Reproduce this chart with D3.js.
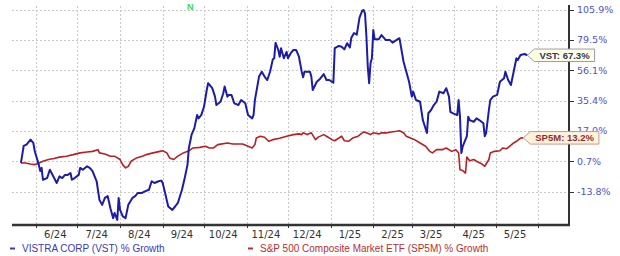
<!DOCTYPE html>
<html><head><meta charset="utf-8">
<script src="https://cdn.jsdelivr.net/npm/d3@7"></script>
<style>body{margin:0;background:#fff}svg{display:block}</style>
</head><body><svg id="c" width="620" height="256"></svg>
<script>
// ---- data ----
const vstDates = ["2024-05-21","2024-05-23","2024-05-25","2024-05-28","2024-05-29","2024-05-30","2024-05-31","2024-06-03","2024-06-04","2024-06-05","2024-06-06","2024-06-09","2024-06-11","2024-06-13","2024-06-16","2024-06-18","2024-06-20","2024-06-22","2024-06-24","2024-06-26","2024-06-27","2024-06-29","2024-07-02","2024-07-03","2024-07-05","2024-07-08","2024-07-10","2024-07-12","2024-07-15","2024-07-17","2024-07-19","2024-07-21","2024-07-23","2024-07-25","2024-07-27","2024-07-28","2024-07-30","2024-07-31","2024-08-01","2024-08-03","2024-08-05","2024-08-07","2024-08-10","2024-08-12","2024-08-14","2024-08-17","2024-08-19","2024-08-22","2024-08-24","2024-08-26","2024-08-29","2024-08-31","2024-09-01","2024-09-03","2024-09-05","2024-09-08","2024-09-10","2024-09-12","2024-09-15","2024-09-17","2024-09-19","2024-09-20","2024-09-22","2024-09-24","2024-09-26","2024-09-27","2024-09-29","2024-10-01","2024-10-03","2024-10-04","2024-10-07","2024-10-09","2024-10-10","2024-10-13","2024-10-15","2024-10-16","2024-10-18","2024-10-19","2024-10-21","2024-10-23","2024-10-26","2024-10-28","2024-10-31","2024-11-02","2024-11-05","2024-11-06","2024-11-07","2024-11-10","2024-11-12","2024-11-14","2024-11-16","2024-11-18","2024-11-20","2024-11-21","2024-11-22","2024-11-24","2024-11-25","2024-11-26","2024-11-28","2024-11-30","2024-12-01","2024-12-03","2024-12-05","2024-12-07","2024-12-09","2024-12-11","2024-12-12","2024-12-13","2024-12-17","2024-12-18","2024-12-19","2024-12-22","2024-12-24","2024-12-27","2024-12-29","2024-12-31","2025-01-03","2025-01-04","2025-01-07","2025-01-09","2025-01-11","2025-01-13","2025-01-15","2025-01-16","2025-01-18","2025-01-20","2025-01-22","2025-01-24","2025-01-25","2025-01-26","2025-01-27","2025-01-28","2025-01-29","2025-01-30","2025-01-31","2025-02-01","2025-02-02","2025-02-05","2025-02-07","2025-02-10","2025-02-13","2025-02-15","2025-02-18","2025-02-20","2025-02-23","2025-02-25","2025-02-27","2025-03-01","2025-03-02","2025-03-04","2025-03-07","2025-03-09","2025-03-12","2025-03-13","2025-03-15","2025-03-17","2025-03-19","2025-03-21","2025-03-24","2025-03-26","2025-03-28","2025-03-29","2025-03-31","2025-04-03","2025-04-04","2025-04-05","2025-04-06","2025-04-07","2025-04-10","2025-04-11","2025-04-12","2025-04-15","2025-04-17","2025-04-19","2025-04-22","2025-04-23","2025-04-24","2025-04-26","2025-04-27","2025-04-29","2025-05-02","2025-05-04","2025-05-07","2025-05-08","2025-05-10","2025-05-12","2025-05-14","2025-05-16","2025-05-17","2025-05-19","2025-05-22","2025-05-24"];
const vstValues = [0,8.8,9.5,12.2,11.3,10.4,6.1,-1.0,-4.0,-2.5,-8.2,-7.4,-3.4,-5.9,-9.7,-6.6,-7.4,-5.9,-5.9,-5.0,-8.2,-7.4,-5.9,-2.5,-3.4,-1.7,-2.5,-4.1,-8.9,-17.2,-19.4,-16.4,-15.6,-20.8,-24.9,-22.8,-25.6,-16.4,-21.5,-24.2,-24.9,-19.4,-16.4,-15.6,-14.2,-14.2,-13.5,-12.8,-8.9,-9.7,-8.9,-8.6,-9.7,-14.9,-20.1,-21.5,-20.1,-18.6,-12.8,-7.4,-1.0,7.7,15.0,18.7,26.4,24.4,26.4,31.5,42.4,47.0,43.6,38.0,32.6,34.7,40.2,44.7,38.0,39.1,39.1,33.7,32.6,35.8,33.7,26.4,24.4,26.4,35.8,51.6,55.1,51.6,49.2,55.1,64.2,65.0,77.2,71.4,66.2,72.8,65.0,70.0,65.0,68.9,71.4,71.4,66.2,55.1,51.2,55.1,55.1,51.6,42.4,48.0,49.7,53.4,49.2,49.2,47.4,72.8,74.6,74.0,71.9,76.8,73.5,81.0,85.2,83.8,98.5,104.9,105.4,102.2,82.4,58.8,47.0,61.2,65.0,87.8,80.0,80.0,83.5,79.5,79.5,77.3,79.5,80.9,62.4,55.1,48.0,38.0,41.3,35.8,34.7,23.4,15.9,27.5,29.5,32.6,34.7,41.3,40.2,43.6,38.0,28.4,27.4,26.4,35.8,25.4,5.0,8.6,14.1,25.4,23.4,22.4,24.4,23.4,21.5,14.1,15.9,29.5,35.8,38.0,39.1,48.0,50.4,55.1,49.2,45.8,55.1,65.0,63.7,67.5,68.3,67.3];

const spDates = ["2024-05-21","2024-05-24","2024-05-28","2024-05-31","2024-06-03","2024-06-06","2024-06-10","2024-06-14","2024-06-18","2024-06-23","2024-06-28","2024-07-03","2024-07-08","2024-07-12","2024-07-16","2024-07-17","2024-07-21","2024-07-25","2024-07-28","2024-08-01","2024-08-03","2024-08-05","2024-08-07","2024-08-09","2024-08-13","2024-08-17","2024-08-20","2024-08-25","2024-08-30","2024-09-01","2024-09-04","2024-09-06","2024-09-09","2024-09-12","2024-09-16","2024-09-20","2024-09-23","2024-09-28","2024-10-02","2024-10-05","2024-10-08","2024-10-11","2024-10-18","2024-10-22","2024-10-29","2024-11-02","2024-11-05","2024-11-07","2024-11-08","2024-11-11","2024-11-14","2024-11-17","2024-11-20","2024-11-25","2024-11-30","2024-12-05","2024-12-09","2024-12-11","2024-12-12","2024-12-15","2024-12-18","2024-12-21","2024-12-23","2024-12-27","2024-12-29","2025-01-02","2025-01-04","2025-01-07","2025-01-09","2025-01-11","2025-01-14","2025-01-17","2025-01-21","2025-01-25","2025-01-27","2025-01-30","2025-02-01","2025-02-05","2025-02-07","2025-02-11","2025-02-14","2025-02-18","2025-02-20","2025-02-23","2025-02-25","2025-02-28","2025-03-03","2025-03-07","2025-03-11","2025-03-14","2025-03-16","2025-03-19","2025-03-23","2025-03-26","2025-03-30","2025-04-02","2025-04-04","2025-04-05","2025-04-07","2025-04-09","2025-04-10","2025-04-12","2025-04-15","2025-04-17","2025-04-21","2025-04-23","2025-04-26","2025-04-27","2025-04-30","2025-05-04","2025-05-06","2025-05-09","2025-05-11","2025-05-14","2025-05-16","2025-05-19","2025-05-21"];
const spValues = [0,-0.1,-0.6,-0.9,-0.1,0.8,1.7,2.2,2.9,3.4,4.2,5.1,5.6,5.9,6.8,5.1,4.5,3.4,3.4,1.7,-1.0,-2.5,-1.7,0.8,2.5,3.4,4.2,5.1,5.9,6.2,5.1,2.5,1.7,3.4,5.1,6.2,7.7,8.0,8.6,7.7,7.7,9.5,10.4,9.8,9.8,8.6,7.7,9.5,13.1,14.1,13.5,11.3,12.2,13.0,14.1,15.0,15.4,15.0,16.0,15.0,16.0,12.2,13.6,15.0,14.1,12.2,11.6,13.1,14.1,11.6,11.3,13.1,14.1,16.5,16.0,15.0,16.0,15.4,16.0,16.0,16.5,16.9,17.2,16.0,14.1,13.1,12.2,10.4,8.6,5.9,5.1,6.8,6.8,7.7,5.9,6.8,5.1,-3.4,-3.8,-5.0,3.0,1.1,1.7,0.8,-0.6,-1.7,1.7,5.1,5.9,6.2,7.7,7.3,8.6,10.4,11.3,13.1,13.2];

const yTickValues = [105.9, 79.5, 56.1, 35.4, 17.0, 0.7, -13.8];
const seriesNames = ["VISTRA CORP (VST) % Growth", "S&P 500 Composite Market ETF (SP5M) % Growth"];
const endLabels = ["VST: 67.3%", "SP5M: 13.2%"];
const eventMarkers = [{date: "2024-09-21", label: "N"}];
const LOG_OFFSET = 126.4;   // axis is logarithmic in (pct + offset)

(function () {
// ---- layout ----
const svg = d3.select("#c");
const pL = 12, pR = 569, pT = 6, pB = 225;
const parse = d3.utcParse("%Y-%m-%d");

const x = d3.scaleUtc()
  .domain([Date.UTC(2024, 4, 14, 12), Date.UTC(2025, 5, 23, 5)])
  .range([pL, pR]);
const yLog = d3.scaleLog()
  .domain([yTickValues[yTickValues.length - 1] + LOG_OFFSET, yTickValues[0] + LOG_OFFSET])
  .range([192, 9.5]);
const y = v => yLog(v + LOG_OFFSET);

const monthStarts = d3.utcMonth.range(new Date(Date.UTC(2024, 5, 1)), new Date(Date.UTC(2025, 5, 2)));
const monthMids = monthStarts.slice(0, -1).map(d => d3.utcDay.offset(d, 14));

// grid
const grid = svg.append("g").attr("stroke", "#c9c9c9").attr("stroke-width", 1).attr("stroke-dasharray", "2,2");
grid.selectAll("line.h").data(yTickValues).join("line")
  .attr("x1", pL).attr("x2", pR)
  .attr("y1", d => Math.round(y(d)) + 0.5).attr("y2", d => Math.round(y(d)) + 0.5);
grid.selectAll("line.v").data(monthStarts).join("line")
  .attr("y1", pT).attr("y2", pB)
  .attr("x1", d => Math.round(x(d)) + 0.5).attr("x2", d => Math.round(x(d)) + 0.5);

// right axis
const yAxisG = svg.append("g").attr("transform", `translate(${pR},0)`);
yAxisG.append("line").attr("x1", 0).attr("x2", 0).attr("y1", 5).attr("y2", pB + 1)
  .attr("stroke", "#333").attr("stroke-width", 2);
yAxisG.selectAll("line.t").data(yTickValues).join("line")
  .attr("x1", 0).attr("x2", 5)
  .attr("y1", d => Math.round(y(d)) + 0.5).attr("y2", d => Math.round(y(d)) + 0.5)
  .attr("stroke", "#333").attr("stroke-width", 1);
yAxisG.selectAll("text").data(yTickValues).join("text")
  .attr("x", 8).attr("y", d => y(d)).attr("dy", "0.35em")
  .attr("font-family", "DejaVu Sans, Verdana, sans-serif").attr("font-size", 9.5)
  .attr("fill", "#5050cc")
  .text(d => d.toFixed(1) + "%");

// bottom axis
const xAxisG = svg.append("g");
xAxisG.append("line").attr("x1", pL).attr("x2", pR + 1).attr("y1", pB).attr("y2", pB)
  .attr("stroke", "#333").attr("stroke-width", 2.5);
xAxisG.selectAll("line.t").data(monthStarts).join("line")
  .attr("x1", d => Math.round(x(d)) + 0.5).attr("x2", d => Math.round(x(d)) + 0.5)
  .attr("y1", pB).attr("y2", pB + 3)
  .attr("stroke", "#333").attr("stroke-width", 1);
xAxisG.selectAll("text").data(monthMids).join("text")
  .attr("x", d => x(d)).attr("y", 238)
  .attr("text-anchor", "middle")
  .attr("font-family", "DejaVu Sans, Verdana, sans-serif").attr("font-size", 10)
  .attr("fill", "#333")
  .text(d3.utcFormat("%-m/%y"));

// lines
const vst = vstDates.map((d, i) => ({date: parse(d), value: vstValues[i]}));
const sp = spDates.map((d, i) => ({date: parse(d), value: spValues[i]}));
const line = d3.line().x(d => x(d.date)).y(d => y(d.value));

svg.append("path").datum(sp).attr("d", line)
  .attr("fill", "none").attr("stroke", "#b82025").attr("stroke-width", 1.6).attr("stroke-linejoin", "round");
svg.append("path").datum(vst).attr("d", line)
  .attr("fill", "none").attr("stroke", "#1c1ca8").attr("stroke-width", 2).attr("stroke-linejoin", "round");

// event marker
svg.selectAll("text.ev").data(eventMarkers).join("text")
  .attr("x", d => x(parse(d.date))).attr("y", 10)
  .attr("text-anchor", "middle")
  .attr("font-family", "Liberation Sans, Arial, sans-serif").attr("font-size", 9).attr("font-weight", "bold")
  .attr("fill", "#3cdc3c")
  .text(d => d.label);

// end labels
function endLabel(series, text, fill, stroke, color) {
  const last = series[series.length - 1];
  const tx = x(last.date), ty = y(last.value);
  const g = svg.append("g");
  const t = g.append("text")
    .attr("font-family", "Liberation Sans, Arial, sans-serif").attr("font-size", 9.5).attr("font-weight", "bold")
    .attr("fill", color).text(text);
  const w = t.node().getComputedTextLength() + 10;
  const bx = tx + 7, h = 12.5;
  g.insert("path", "text")
    .attr("d", `M${tx},${ty}L${bx},${ty - h / 2}L${bx + w},${ty - h / 2}L${bx + w},${ty + h / 2}L${bx},${ty + h / 2}Z`)
    .attr("fill", fill).attr("stroke", stroke).attr("stroke-width", 1);
  t.attr("x", bx + w / 2).attr("y", ty).attr("dy", "0.35em").attr("text-anchor", "middle");
}
endLabel(vst, endLabels[0], "#ffffe2", "#9a9ab8", "#33336a");
endLabel(sp, endLabels[1], "#fdf3dc", "#c89a8a", "#9a2a2a");

// legend
const legend = [
  {name: seriesNames[0], color: "#3a3ab8", lx: 10},
  {name: seriesNames[1], color: "#b83030", lx: 248}
];
const lg = svg.selectAll("g.lg").data(legend).join("g");
lg.append("line")
  .attr("x1", d => d.lx).attr("x2", d => d.lx + 5).attr("y1", 248.5).attr("y2", 248.5)
  .attr("stroke", d => d.color).attr("stroke-width", 2);
lg.append("text")
  .attr("x", d => d.lx + 12).attr("y", 252)
  .attr("font-family", "Liberation Sans, Arial, sans-serif").attr("font-size", 10)
  .attr("fill", d => d.color)
  .text(d => d.name);
})();
</script>
</body></html>
